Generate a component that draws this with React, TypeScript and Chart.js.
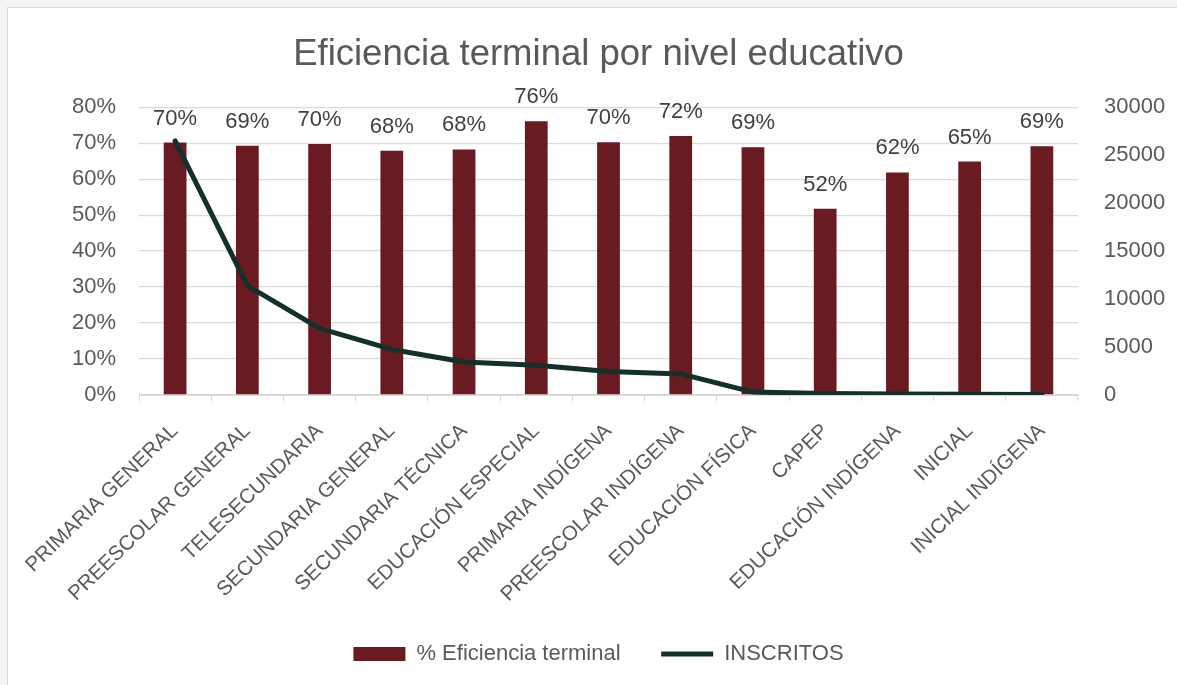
import React, { useEffect, useRef } from "react";
import { Chart, registerables } from "chart.js";

Chart.register(...registerables);

const categories = [
  "PRIMARIA GENERAL",
  "PREESCOLAR GENERAL",
  "TELESECUNDARIA",
  "SECUNDARIA GENERAL",
  "SECUNDARIA TÉCNICA",
  "EDUCACIÓN ESPECIAL",
  "PRIMARIA INDÍGENA",
  "PREESCOLAR INDÍGENA",
  "EDUCACIÓN FÍSICA",
  "CAPEP",
  "EDUCACIÓN INDÍGENA",
  "INICIAL",
  "INICIAL INDÍGENA",
];

const eficiencia = [0.702, 0.693, 0.698, 0.679, 0.683, 0.761, 0.703, 0.72, 0.689, 0.518, 0.619, 0.649, 0.692];

const inscritos = [26500, 11400, 6950, 4750, 3450, 3100, 2450, 2200, 300, 150, 100, 80, 50];

const TITLE = "Eficiencia terminal por nivel educativo";
const BAR_LABEL = "% Eficiencia terminal";
const LINE_LABEL = "INSCRITOS";

const FONT = '"Liberation Sans", Arial, sans-serif';
const TEXT = "#595959";
const GRID = "#d9d9d9";
const BAR = "#6a1b22";
const LINE = "#13312a";

const pct = (v: number) => Math.round(v * 100) + "%";

const barLabels = {
  id: "barLabels",
  afterDatasetsDraw(chart: any) {
    const meta = chart.getDatasetMeta(0);
    const ctx = chart.ctx;
    ctx.save();
    ctx.font = `22px ${FONT}`;
    ctx.fillStyle = "#404040";
    ctx.textAlign = "center";
    ctx.textBaseline = "middle";
    meta.data.forEach((el: any, i: number) => {
      ctx.fillText(pct(eficiencia[i]), el.x, el.y - 24);
    });
    ctx.restore();
  },
};

export default function App() {
  const ref = useRef<HTMLCanvasElement>(null);

  useEffect(() => {
    if (!ref.current) return;
    const chart = new Chart(ref.current, {
      data: {
        labels: categories,
        datasets: [
          {
            type: "bar",
            label: BAR_LABEL,
            data: eficiencia,
            backgroundColor: BAR,
            borderWidth: 0,
            barPercentage: 0.315,
            categoryPercentage: 1,
            yAxisID: "y",
            order: 1,
            pointStyle: "rect",
          } as any,
          {
            type: "line",
            label: LINE_LABEL,
            data: inscritos,
            borderColor: LINE,
            backgroundColor: LINE,
            borderWidth: 5,
            borderCapStyle: "round",
            borderJoinStyle: "round",
            pointRadius: 0,
            pointHoverRadius: 0,
            pointStyle: "line",
            tension: 0,
            yAxisID: "y1",
            order: 0,
          } as any,
        ],
      },
      options: {
        responsive: false,
        animation: false,
        layout: { padding: { left: 20, right: 0, top: 0, bottom: 10 } },
        plugins: {
          title: {
            display: true,
            text: TITLE,
            color: TEXT,
            font: { family: FONT, size: 36.5, weight: "normal" },
            padding: { top: 33, bottom: 30.5 },
          },
          legend: {
            position: "bottom",
            labels: {
              usePointStyle: true,
              pointStyleWidth: 52,
              boxHeight: 14,
              padding: 10,
              color: TEXT,
              font: { family: FONT, size: 22 },
              generateLabels: (chart: any) => {
                const items = Chart.defaults.plugins.legend.labels.generateLabels(chart);
                items.sort((a: any, b: any) => a.datasetIndex - b.datasetIndex);
                items.forEach((it: any) => {
                  if (it.datasetIndex === 0) it.text = it.text + "     ";
                });
                return items;
              },
            },
          },
          tooltip: { enabled: false },
        },
        scales: {
          x: {
            offset: true,
            grid: {
              offset: true,
              drawOnChartArea: false,
              drawTicks: true,
              tickLength: 6,
              color: GRID,
            },
            border: { display: true, color: GRID },
            ticks: {
              autoSkip: false,
              minRotation: 44,
              maxRotation: 44,
              padding: 18,
              color: TEXT,
              font: { family: FONT, size: 20.5 },
            },
            afterFit: (s: any) => {
              s.height = 238;
            },
          },
          y: {
            position: "left",
            min: 0,
            max: 0.8,
            ticks: {
              stepSize: 0.1,
              padding: 23,
              color: TEXT,
              font: { family: FONT, size: 22 },
              callback: (v: any) => pct(Number(v)),
            },
            grid: { color: GRID, lineWidth: 1.3, drawTicks: false },
            border: { display: false },
            afterFit: (s: any) => {
              s.width = 119;
            },
          },
          y1: {
            position: "right",
            min: 0,
            max: 30000,
            ticks: {
              stepSize: 5000,
              padding: 26,
              color: TEXT,
              font: { family: FONT, size: 22 },
              callback: (v: any) => String(v),
            },
            grid: { drawOnChartArea: false, drawTicks: false },
            border: { display: false },
            afterFit: (s: any) => {
              s.width = 99;
            },
          },
        },
      } as any,
      plugins: [barLabels],
    });
    return () => chart.destroy();
  }, []);

  return (
    <div style={{ position: "fixed", left: 0, top: 0, width: 1177, height: 685, background: "#f3f4f4", overflow: "hidden" }}>
      <div
        style={{
          position: "absolute",
          left: 7,
          top: 7,
          width: 1250,
          height: 750,
          background: "#ffffff",
          border: "1px solid #d9d9d9",
        }}
      />
      <canvas ref={ref} width={1177} height={685} style={{ position: "absolute", left: 0, top: 0, width: 1177, height: 685 }} />
    </div>
  );
}
